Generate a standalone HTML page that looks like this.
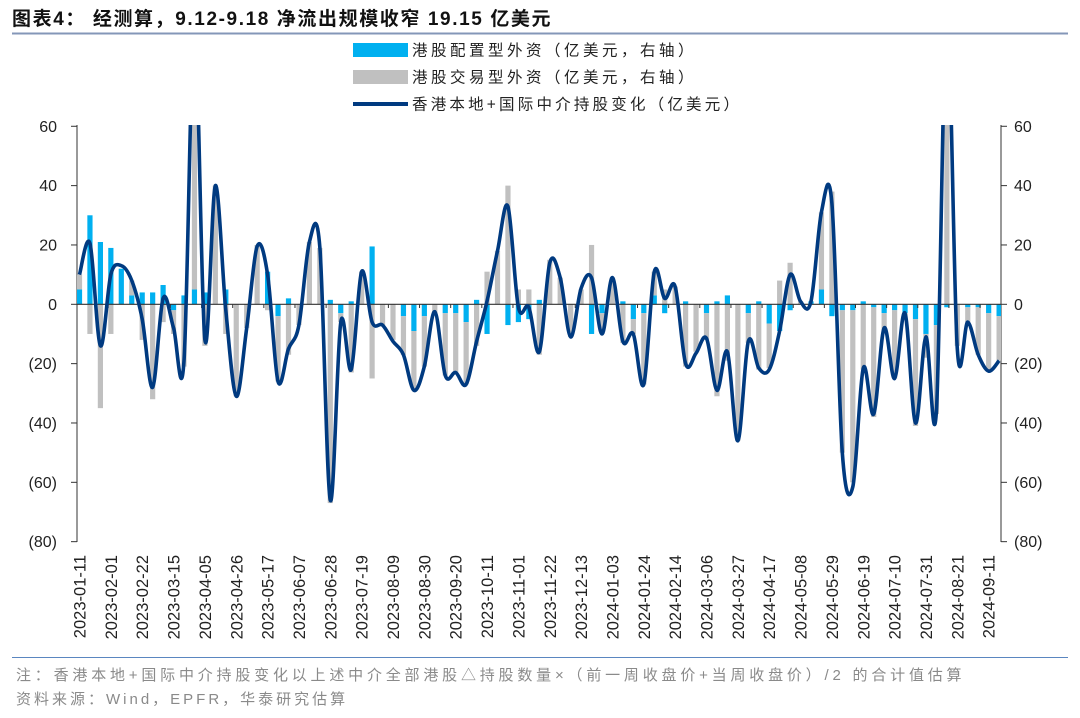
<!DOCTYPE html>
<html><head><meta charset="utf-8">
<style>
html,body{margin:0;padding:0;background:#fff;}
body{width:1080px;height:718px;overflow:hidden;position:relative;font-family:"Liberation Sans","Noto Sans CJK SC",sans-serif;}
</style></head>
<body>
<svg id="s" width="1080" height="718" xmlns="http://www.w3.org/2000/svg" style="position:absolute;left:0;top:0">
<text x="12" y="25" font-size="19" font-weight="bold" fill="#111" letter-spacing="1.6" font-family="Liberation Sans, Noto Sans CJK SC, sans-serif">图表4： 经测算，9.12-9.18 净流出规模收窄 19.15 亿美元</text>
<line x1="12" y1="33.5" x2="1068" y2="33.5" stroke="#8497b8" stroke-width="2"/>
<rect x="353" y="43" width="55" height="14" fill="#00b0f0"/>
<text x="412" y="55.5" font-size="15.5" fill="#222" letter-spacing="3.5" font-family="Liberation Sans, Noto Sans CJK SC, sans-serif">港股配置型外资（亿美元，右轴）</text>
<rect x="353" y="70" width="55" height="14" fill="#c0c0c0"/>
<text x="412" y="82.5" font-size="15.5" fill="#222" letter-spacing="3.5" font-family="Liberation Sans, Noto Sans CJK SC, sans-serif">港股交易型外资（亿美元，右轴）</text>
<line x1="353" y1="104" x2="408" y2="104" stroke="#003a80" stroke-width="4"/>
<text x="412" y="109.5" font-size="15.5" fill="#222" letter-spacing="3.2" font-family="Liberation Sans, Noto Sans CJK SC, sans-serif">香港本地+国际中介持股变化（亿美元）</text>
<g id="plot"></g>
<line x1="12" y1="657.5" x2="1068" y2="657.5" stroke="#5a86c0" stroke-width="1"/>
<text x="16" y="680" font-size="15" fill="#8a8a8a" letter-spacing="3.8" font-family="Liberation Sans, Noto Sans CJK SC, sans-serif">注：香港本地+国际中介持股变化以上述中介全部港股△持股数量×（前一周收盘价+当周收盘价）/2 的合计值估算</text>
<text x="16" y="704" font-size="15" fill="#8a8a8a" letter-spacing="3" font-family="Liberation Sans, Noto Sans CJK SC, sans-serif">资料来源：Wind，EPFR，华泰研究估算</text>
</svg>
<script>
var line=[10,20.5,-14,10,13,8,-5,-28,2,-8,-19,95,-12,40,-2,-31,-8,19.5,10,-26,-15,-7,21,19,-66,-6,-22,11,-6,-7,-12.5,-17,-29,-21,-2.5,-24,-23,-27,-12.5,1,18,33,-1,-1,-16,14,9,-11,5.4,9,-10,9,-12.5,-10,-27,11,2,6,-20,-16.5,-11.5,-29,-16,-46,-12.5,-21.5,-22,-9,10,1,1,31,34,-50,-61.5,-21.5,-37,-8,-25,-3,-40,-11,-36,100,-15,-6,-17,-22.5,-19];
var blue=[5,30,21,19,12,3,4,4,6.5,-2,3,5,4,0,5,0,0,0,11,-4,2,0,0,0,1.5,-3,1,0,19.5,0,0,-4,-9,-4,0,-3,-3,-6,1.5,-10,0,-7,-6,-5,1.5,0,0,0,0,-10,-3,0,1,-5,-3,3,-3,0,1,0,-3,1,3,0,-3,1,-6.5,-9,-2,0,1,5,-4,-2,-2,1,-1,-3,-2,-3,-5,-10,-7,-1,0,-1,-1,-3,-4];
var gray=[5,-10,-35,-10,0,5,-12,-32,-6,-8,-21,95,-14,40,-10,-31,-8,20,-2,-22,-17,-7,21,19,-67,-3,-23,11,-25,-7,-12,-13,-20,-17,-3,-21,-20,-21,-14,11,18,40,5,5,-17,15,9,-11,5,20,-7,9,-13,-5,-24,8,5,6,-21,-16,-9,-31,-19,-46,-10,-22,-15,8,14,1,0,26,38,-48,-58,-22,-37,-6,-23,-2,-36,-8,-30,100,-14,-5,-16,-19,-15];
var g=document.getElementById('plot');
function X(i){return 79.5+10.45*i;}
function Y(v){return 304.3-2.967*v;}
var h='';
h+='<clipPath id="c"><rect x="77" y="125" width="924" height="420"/></clipPath>';
h+='<line x1="77" y1="125" x2="77" y2="542" stroke="#333" stroke-width="1"/>';
h+='<line x1="1001" y1="125" x2="1001" y2="542" stroke="#333" stroke-width="1"/>';
[60,40,20,0,-20,-40,-60,-80].forEach(function(v){var y=Y(v);
 h+='<line x1="71" y1="'+y+'" x2="77" y2="'+y+'" stroke="#333"/>';
 h+='<line x1="1001" y1="'+y+'" x2="1007" y2="'+y+'" stroke="#333"/>';
 var t=v<0?'('+(-v)+')':''+v;
 h+='<text x="57" y="'+(y+5.5)+'" font-size="16" text-anchor="end" fill="#222">'+t+'</text>';
 h+='<text x="1014" y="'+(y+5.5)+'" font-size="16" fill="#222">'+t+'</text>';
});
h+='<g clip-path="url(#c)">';
for(var i=0;i<89;i++){
 var b=blue[i],gr=gray[i],x=X(i)-2.6,w=5.2;
 var pos=0,neg=0;
 [[b,'#00b0f0'],[gr,'#c0c0c0']].forEach(function(p){
  var v=p[0]; if(v===0)return;
  var y0,y1;
  if(v>0){y0=Y(pos+v);y1=Y(pos);pos+=v;}else{y0=Y(neg);y1=Y(neg+v);neg+=v;}
  h+='<rect x="'+x+'" y="'+y0+'" width="'+w+'" height="'+(y1-y0)+'" fill="'+p[1]+'"/>';
 });
}
h+='</g>';
h+='<line x1="77" y1="304.3" x2="1001" y2="304.3" stroke="#333" stroke-width="1.2"/>';
for(var k=0;k<=29;k++){var tx=77+31.14*k;h+='<line x1="'+tx+'" y1="304.3" x2="'+tx+'" y2="308" stroke="#333"/>';}
var P=line.map(function(v,i){return [X(i),Y(v)];});
var d='M'+P[0][0]+','+P[0][1];
for(var i=0;i<P.length-1;i++){
 var p0=P[Math.max(0,i-1)],p1=P[i],p2=P[i+1],p3=P[Math.min(P.length-1,i+2)];
 var t=1/6;
 var c1=[p1[0]+(p2[0]-p0[0])*t,p1[1]+(p2[1]-p0[1])*t];
 var c2=[p2[0]-(p3[0]-p1[0])*t,p2[1]-(p3[1]-p1[1])*t];
 d+=' C'+c1[0].toFixed(1)+','+c1[1].toFixed(1)+' '+c2[0].toFixed(1)+','+c2[1].toFixed(1)+' '+p2[0].toFixed(1)+','+p2[1].toFixed(1);
}
h+='<g clip-path="url(#c)"><path d="'+d+'" fill="none" stroke="#003a80" stroke-width="3.6" stroke-linejoin="round"/></g>';
var start=new Date(Date.UTC(2023,0,11));
for(var i=0;i<89;i+=3){
 var dt=new Date(start.getTime()+i*7*86400000);
 var s=dt.getUTCFullYear()+'-'+('0'+(dt.getUTCMonth()+1)).slice(-2)+'-'+('0'+dt.getUTCDate()).slice(-2);
 var x=X(i)+6,y=555;
 h+='<text x="'+x+'" y="'+y+'" font-size="16.5" text-anchor="end" fill="#222" transform="rotate(-90 '+x+' '+y+')">'+s+'</text>';
}
g.innerHTML=h;
</script>
</body></html>
